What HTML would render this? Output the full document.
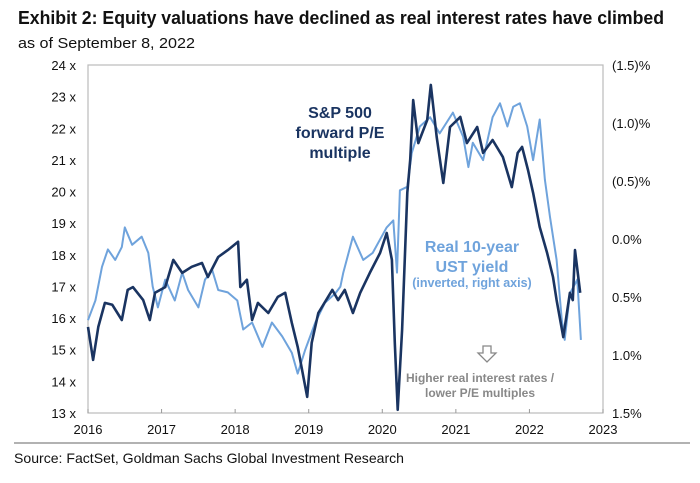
<!DOCTYPE html>
<html><head><meta charset="utf-8"><style>
body{margin:0;background:#fff;}
svg{display:block;font-family:"Liberation Sans",sans-serif;}
</style></head><body>
<svg id="chart" width="700" height="483" viewBox="0 0 700 483">
<text x="18" y="24" font-size="18" font-weight="bold" fill="#111" textLength="646" lengthAdjust="spacingAndGlyphs">Exhibit 2: Equity valuations have declined as real interest rates have climbed</text>
<text x="18" y="48" font-size="15" fill="#111" textLength="177" lengthAdjust="spacingAndGlyphs">as of September 8, 2022</text>
<rect x="88" y="65" width="515" height="348" fill="none" stroke="#bbb" stroke-width="1.2"/>
<g id="axes"></g>
<g id="series"></g>
<text font-size="16" font-weight="bold" fill="#1a3461" text-anchor="middle"><tspan x="340" y="118">S&amp;P 500</tspan><tspan x="340" y="138">forward P/E</tspan><tspan x="340" y="158">multiple</tspan></text>
<text font-size="16" font-weight="bold" fill="#6fa3dc" text-anchor="middle"><tspan x="472" y="252">Real 10-year</tspan><tspan x="472" y="272">UST yield</tspan></text>
<text x="472" y="287" font-size="12.5" font-weight="bold" fill="#6fa3dc" text-anchor="middle">(inverted, right axis)</text>
<path d="M483,346 h8 v7 h5 l-9,9 l-9,-9 h5 z" fill="#fff" stroke="#888" stroke-width="1.3"/>
<text font-size="12" font-weight="bold" fill="#888" text-anchor="middle"><tspan x="480" y="382">Higher real interest rates /</tspan><tspan x="480" y="397">lower P/E multiples</tspan></text>
<line x1="14" y1="443" x2="690" y2="443" stroke="#999" stroke-width="1.5"/>
<text x="14" y="463" font-size="14" fill="#111" textLength="390" lengthAdjust="spacingAndGlyphs">Source: FactSet, Goldman Sachs Global Investment Research</text>
</svg>
<script>
const peDates=[2016.00,2016.07,2016.14,2016.23,2016.33,2016.46,2016.54,2016.61,2016.75,2016.84,2016.91,2017.05,2017.16,2017.28,2017.41,2017.55,2017.63,2017.77,2017.90,2018.04,2018.07,2018.16,2018.23,2018.31,2018.45,2018.58,2018.68,2018.77,2018.85,2018.98,2019.04,2019.13,2019.32,2019.40,2019.49,2019.60,2019.70,2019.83,2019.97,2020.06,2020.13,2020.17,2020.21,2020.27,2020.34,2020.38,2020.42,2020.49,2020.61,2020.66,2020.74,2020.83,2020.92,2021.06,2021.15,2021.29,2021.37,2021.50,2021.64,2021.76,2021.84,2021.90,2021.98,2022.05,2022.14,2022.24,2022.32,2022.37,2022.46,2022.55,2022.59,2022.62,2022.69];
const peValues=[15.72,14.68,15.72,16.48,16.42,15.94,16.89,16.98,16.57,15.94,16.80,16.98,17.84,17.43,17.62,17.74,17.30,17.93,18.15,18.41,16.98,17.21,15.94,16.48,16.16,16.67,16.80,15.85,15.09,13.51,15.22,16.16,16.89,16.57,16.89,16.16,16.80,17.43,18.06,18.69,17.84,15.22,13.10,15.63,19.96,21.00,22.89,21.53,22.26,23.37,21.72,20.27,22.04,22.36,21.53,22.04,21.22,21.63,21.09,20.14,21.22,21.41,20.68,19.96,18.88,18.06,17.30,16.57,15.40,16.80,16.57,18.15,16.80];
const yDates=[2016.00,2016.10,2016.19,2016.27,2016.37,2016.46,2016.50,2016.60,2016.73,2016.82,2016.88,2016.95,2017.05,2017.18,2017.28,2017.36,2017.50,2017.59,2017.69,2017.77,2017.90,2018.03,2018.11,2018.23,2018.37,2018.50,2018.64,2018.77,2018.85,2018.95,2019.09,2019.22,2019.36,2019.43,2019.47,2019.60,2019.74,2019.87,2020.06,2020.15,2020.20,2020.24,2020.34,2020.40,2020.51,2020.65,2020.78,2020.96,2021.10,2021.17,2021.23,2021.37,2021.50,2021.60,2021.70,2021.78,2021.87,2021.97,2022.05,2022.14,2022.21,2022.28,2022.37,2022.44,2022.48,2022.55,2022.65,2022.70];
const yValues=[0.70,0.53,0.24,0.09,0.18,0.07,-0.10,0.05,-0.02,0.12,0.41,0.59,0.35,0.53,0.29,0.44,0.59,0.35,0.27,0.44,0.46,0.53,0.78,0.72,0.93,0.72,0.84,0.98,1.16,0.96,0.72,0.55,0.47,0.41,0.29,-0.02,0.18,0.12,-0.10,-0.16,0.29,-0.42,-0.45,-0.74,-0.97,-1.05,-0.91,-1.09,-0.88,-0.62,-0.83,-0.68,-1.05,-1.17,-0.97,-1.14,-1.17,-0.97,-0.68,-1.03,-0.51,-0.19,0.18,0.70,0.87,0.47,0.35,0.87];
const leftTicks=[13,14,15,16,17,18,19,20,21,22,23,24];
const rightTicks=[-1.5,-1.0,-0.5,0.0,0.5,1.0,1.5];
const rightTickLabels=["(1.5)%","(1.0)%","(0.5)%","0.0%","0.5%","1.0%","1.5%"];
const yearTicks=[2016,2017,2018,2019,2020,2021,2022,2023];

const X0=88,X1=603,Y0=65,Y1=413;
const xs=d=>X0+(d-2016)/7*(X1-X0);
const yl=v=>Y1-(v-13)/11*(Y1-Y0);
const yr=v=>Y0+(v+1.5)/3*(Y1-Y0);
const NS="http://www.w3.org/2000/svg";
const axes=document.getElementById('axes'),series=document.getElementById('series');
function mk(tag,attrs,parent,txt){const e=document.createElementNS(NS,tag);for(const k in attrs)e.setAttribute(k,attrs[k]);if(txt!==undefined)e.textContent=txt;parent.appendChild(e);return e;}
leftTicks.forEach(v=>{
  const t=mk('text',{x:76,y:yl(v)+5,'font-size':13,'text-anchor':'end',fill:'#111'},axes,v+' x');
  
  
});
rightTicks.forEach((v,i)=>{
  const t=mk('text',{x:612,y:yr(v)+5,'font-size':13,fill:'#111'},axes,rightTickLabels[i]);
  
  
});
yearTicks.forEach(y=>{
  const l=mk('line',{x1:xs(y),x2:xs(y),y1:Y1,y2:Y1-4,stroke:'#999','stroke-width':1},axes);
  
  
  const t=mk('text',{x:xs(y),y:434,'font-size':13,'text-anchor':'middle',fill:'#111'},axes,y);
  
  
});
const pl=mk('polyline',{points:yDates.map((d,i)=>xs(d).toFixed(1)+','+yr(yValues[i]).toFixed(1)).join(' '),fill:'none',stroke:'#6fa3dc','stroke-width':2,'stroke-linejoin':'round'},series);


const pp=mk('polyline',{points:peDates.map((d,i)=>xs(d).toFixed(1)+','+yl(peValues[i]).toFixed(1)).join(' '),fill:'none',stroke:'#1a3461','stroke-width':2.6,'stroke-linejoin':'round'},series);


</script>
</body></html>
